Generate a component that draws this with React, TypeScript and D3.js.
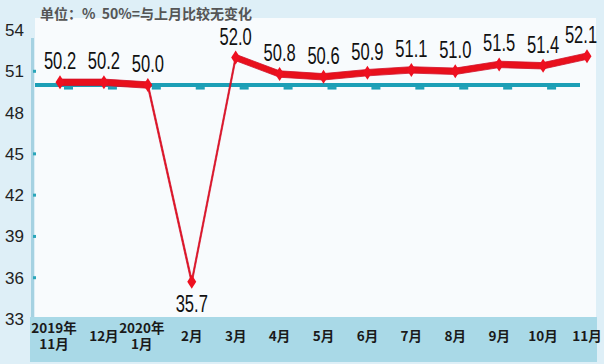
import React from 'react';
import * as d3 from 'd3';

const categories = ['2019-11', '2019-12', '2020-01', '2020-02', '2020-03', '2020-04', '2020-05', '2020-06', '2020-07', '2020-08', '2020-09', '2020-10', '2020-11'];
const xLabels = [['2019年', '11月'], ['12月'], ['2020年', '1月'], ['2月'], ['3月'], ['4月'], ['5月'], ['6月'], ['7月'], ['8月'], ['9月'], ['10月'], ['11月']];
const values = [50.2, 50.2, 50.0, 35.7, 52.0, 50.8, 50.6, 50.9, 51.1, 51.0, 51.5, 51.4, 52.1];
const yTicks = [54, 51, 48, 45, 42, 39, 36, 33];
const baseline = 50;
const title = '单位：%  50%=与上月比较无变化';

const W = 604;
const H = 364;

const App = () => {
  const x = d3.scalePoint<string>().domain(categories).range([60, 587]);
  const y = d3.scaleLinear().domain([33, 54]).range([319, 30]);

  // the red line is drawn as a band of constant vertical thickness
  const band = 3.2;
  const area = d3.area<number>()
    .x((d, i) => x(categories[i]) as number)
    .y0(d => y(d) - band)
    .y1(d => y(d) + band);

  const diamond = (cx: number, cy: number) =>
    `M${cx},${cy - 7}L${cx + 4.5},${cy}L${cx},${cy + 7}L${cx - 4.5},${cy}Z`;

  const numFont = '"Liberation Sans", Arial, sans-serif';
  const cjkFont = '"Noto Sans CJK SC", "Noto Sans", sans-serif';

  return (
    <svg width={W} height={H} style={{ position: 'absolute', left: 0, top: 0 }}>
      <rect x={0} y={0} width={W} height={H} fill="#deeff7" />
      <rect x={35} y={18} width={561} height={299} fill="#f8fbfd" />
      <rect x={30} y={317} width={567} height={45} fill="#a9d9e7" />
      <rect x={31} y={38} width={3} height={279} fill="#a6d2e2" />

      <text x={40} y={19} fontFamily={cjkFont} fontSize={14} fontWeight={700} fill="#555"
        style={{ whiteSpace: 'pre' }}>{title}</text>

      {yTicks.map(t => (
        <g key={t}>
          <text x={24} y={y(t) + 6} textAnchor="end" fontFamily={numFont} fontSize={17} fill="#222">{t}</text>
          {t !== 54 && t !== 33 && t !== 48 && (
            <rect x={33} y={y(t) - 1.5} width={3} height={3} fill="#2aa6ba" />
          )}
        </g>
      ))}

      <line x1={35} x2={580} y1={y(baseline)} y2={y(baseline)} stroke="#1c9fb6" strokeWidth={4} />
      {categories.slice(0, -1).map(c => (
        <rect key={c} x={(x(c) as number) + 4} y={y(baseline) + 2} width={9} height={2.5} fill="#1c9fb6" />
      ))}

      <path d={area(values) || ''} fill="#e8101c" stroke="#d2102a" strokeWidth={0.8} />
      {values.map((v, i) => (
        <path key={i} d={diamond(x(categories[i]) as number, y(v))} fill="#ee1020" />
      ))}

      {values.map((v, i) => {
        const cx = (x(categories[i]) as number) - (i === values.length - 1 ? 6 : 0);
        const cy = v < baseline ? y(v) + 30 : y(v) - 13;
        return (
          <text key={i} transform={`translate(${cx},${cy}) scale(0.72,1)`} textAnchor="middle"
            fontFamily={numFont} fontSize={23} fill="#111">{v.toFixed(1)}</text>
        );
      })}

      {xLabels.map((lines, i) => {
        const cx = (x(categories[i]) as number) - (lines.length > 1 ? 6 : 0);
        const y0 = lines.length > 1 ? 333 : 341;
        return (
          <text key={i} textAnchor="middle" fontFamily={cjkFont} fontSize={13.5} fontWeight={700} fill="#1a1a1a">
            {lines.map((l, j) => (
              <tspan key={j} x={cx} y={y0 + j * 16}>{l}</tspan>
            ))}
          </text>
        );
      })}
    </svg>
  );
};

export default App;
